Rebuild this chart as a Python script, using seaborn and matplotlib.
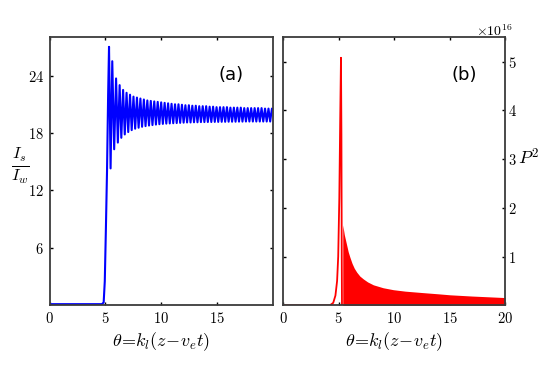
import numpy as np
import pandas as pd
import matplotlib
matplotlib.use("Agg")
import matplotlib.pyplot as plt
import seaborn as sns

# ---- data ----
# panel (a): I_s / I_w
rise_x = [0.0, 4.7, 4.85, 4.95, 5.05, 5.15, 5.25]
rise_y = [0.12, 0.12, 0.3, 2.5, 8.0, 14.0, 22.0]
peak_x = [5.33, 5.62, 5.96, 6.28, 6.59, 6.90, 7.21, 7.52, 7.83, 8.14, 8.45, 8.76,
          9.07, 9.38, 9.69, 10.00, 10.31, 10.62, 10.93, 11.24, 11.55, 11.86, 12.17,
          12.48, 12.79, 13.10, 13.41, 13.72, 14.03, 14.34, 14.65, 14.96, 15.27,
          15.58, 15.89, 16.20, 16.51, 16.82, 17.13, 17.44, 17.75, 18.06, 18.37,
          18.68, 18.99, 19.30, 19.61, 19.92]
peak_y = [27.0, 25.5, 23.7, 23.0, 22.5, 22.2, 22.0, 21.8, 21.7, 21.6, 21.5, 21.4,
          21.35, 21.3, 21.25, 21.2, 21.15, 21.1, 21.05, 21.0, 21.0, 20.95, 20.9,
          20.9, 20.85, 20.85, 20.8, 20.8, 20.8, 20.75, 20.75, 20.7, 20.7,
          20.7, 20.7, 20.65, 20.65, 20.65, 20.65, 20.6, 20.6, 20.6, 20.6,
          20.6, 20.6, 20.55, 20.55, 20.55]
trough_x = [5.47, 5.79, 6.12, 6.43, 6.74, 7.05, 7.36, 7.67, 7.98, 8.29, 8.60, 8.91,
            9.22, 9.53, 9.84, 10.15, 10.46, 10.77, 11.08, 11.39, 11.70, 12.01, 12.32,
            12.63, 12.94, 13.25, 13.56, 13.87, 14.18, 14.49, 14.80, 15.11, 15.42,
            15.73, 16.04, 16.35, 16.66, 16.97, 17.28, 17.59, 17.90, 18.21, 18.52,
            18.83, 19.14, 19.45, 19.76]
trough_y = [14.3, 16.3, 17.0, 17.5, 17.85, 18.1, 18.3, 18.45, 18.55, 18.65, 18.72, 18.78,
            18.83, 18.88, 18.92, 18.95, 18.98, 19.0, 19.02, 19.04, 19.06, 19.08, 19.1,
            19.1, 19.12, 19.12, 19.14, 19.14, 19.15, 19.15, 19.16, 19.16, 19.17,
            19.17, 19.18, 19.18, 19.18, 19.19, 19.19, 19.2, 19.2, 19.2, 19.2,
            19.2, 19.2, 19.2, 19.2]

# panel (b): P^2 (units of 1e16)
spike_x = [0.0, 4.2, 4.5, 4.7, 4.85, 4.95, 5.05, 5.13, 5.2, 5.24, 5.27, 5.29]
spike_y = [0.0, 0.0, 0.05, 0.2, 0.5, 1.0, 2.2, 3.8, 5.08, 3.5, 1.0, 0.0]
env_x = [5.36, 5.5, 5.7, 5.85, 6.0, 6.2, 6.4, 6.62, 6.9, 7.22, 7.6, 8.12, 9.0,
         9.92, 11.0, 12.6, 14.0, 15.04, 17.0, 19.85, 20.0]
env_y = [1.65, 1.45, 1.25, 1.1, 0.99, 0.86, 0.76, 0.68, 0.6, 0.54, 0.48, 0.42, 0.36,
         0.32, 0.29, 0.26, 0.235, 0.215, 0.19, 0.16, 0.16]

ticks_a_x = [0, 5, 10, 15]
ticks_a_y = [6, 12, 18, 24]
ticks_b_x = [0, 5, 10, 15, 20]
ticks_b_y = [1, 2, 3, 4, 5]

# ---- build series ----
osc_x, osc_y = [], []
for i in range(len(peak_x)):
    osc_x.append(peak_x[i]); osc_y.append(peak_y[i])
    if i < len(trough_x):
        osc_x.append(trough_x[i]); osc_y.append(trough_y[i])
df_a = pd.DataFrame({"x": rise_x + osc_x, "y": rise_y + osc_y})
df_b = pd.DataFrame({"x": spike_x, "y": spike_y})

sns.set_theme(style="white")
plt.rcParams["mathtext.fontset"] = "cm"
plt.rcParams["font.family"] = ["DejaVu Sans"]
for k in ["text.color", "axes.labelcolor", "xtick.color", "ytick.color"]:
    plt.rcParams[k] = "black"

fig = plt.figure(figsize=(5.55, 3.82), dpi=100)
ax1 = fig.add_axes([0.0892, 0.2008, 0.402, 0.7016])
ax2 = fig.add_axes([0.5105, 0.2008, 0.3995, 0.7016])

frame_col = "#3c3c3c"

sns.lineplot(data=df_a, x="x", y="y", sort=False, estimator=None, ax=ax1,
             color="#0000ff", linewidth=1.5)
sns.lineplot(data=df_b, x="x", y="y", sort=False, estimator=None, ax=ax2,
             color="#ff0000", linewidth=1.3)
ax2.fill_between(env_x, 0, env_y, color="#ff0000", linewidth=0)

ax1.set_xlim(0, 19.98)
ax1.set_ylim(0, 28)
ax2.set_xlim(0, 20)
ax2.set_ylim(0, 5.5)

for ax, xt, yt in [(ax1, ticks_a_x, ticks_a_y), (ax2, ticks_b_x, ticks_b_y)]:
    ax.set_xticks(xt)
    ax.set_xticklabels([f"${v}$" for v in xt], fontsize=10.5)
    ax.set_yticks(yt)
    ax.set_yticklabels([f"${v}$" for v in yt], fontsize=10.5)
    ax.tick_params(direction="in", length=2.5, width=1, colors="black",
                   top=True, right=True, left=True, bottom=True, pad=4)
    for s in ax.spines.values():
        s.set_color(frame_col)
        s.set_linewidth(1.3)
    ax.set_xlabel(r"$\theta\!=\!k_l(z\!-\!v_e t)$", fontsize=13, labelpad=3)
    ax.set_ylabel("")

ax2.yaxis.tick_right()
ax2.tick_params(axis="y", left=True, right=True, labelleft=False, labelright=True,
                pad=2)

ax1.text(0.813, 0.859, "(a)", transform=ax1.transAxes, fontsize=13,
         ha="center", va="center")
ax2.text(0.816, 0.859, "(b)", transform=ax2.transAxes, fontsize=13,
         ha="center", va="center")

fig.text(20 / 555, 1 - 166 / 382, r"$\frac{I_s}{I_w}$", fontsize=17,
         ha="center", va="center")
fig.text(529 / 555, 1 - 158 / 382, r"$P^2$", fontsize=13, ha="center", va="center")
fig.text(494 / 555, 1 - 31 / 382, r"$\times 10^{16}$", fontsize=10, ha="center",
         va="center")

fig.savefig("out.png", dpi=100)
